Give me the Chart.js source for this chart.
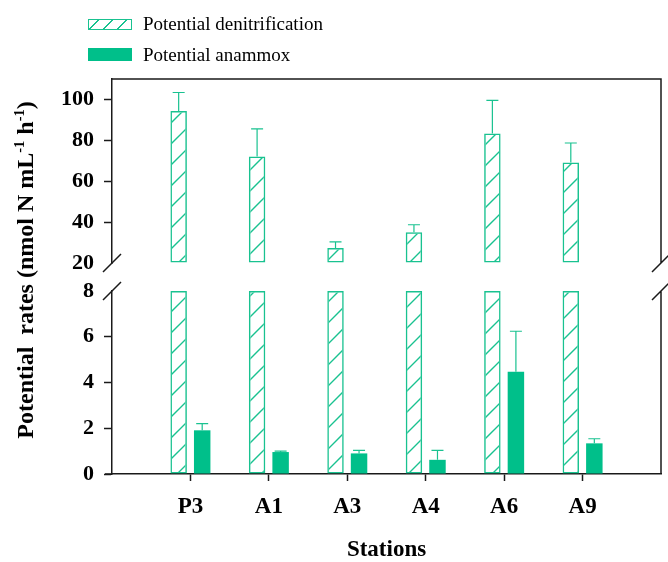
<!DOCTYPE html>
<html>
<head>
<meta charset="utf-8">
<title>Potential rates by station</title>
<script src="https://cdn.jsdelivr.net/npm/chart.js@4.4.1/dist/chart.umd.min.js"></script>
<style>
  html, body { margin: 0; padding: 0; background: #fff; }
  #wrap { position: relative; width: 668px; height: 562px; overflow: hidden; }
  #wrap canvas { position: absolute; left: 0; top: 0; }
  .serif { font-family: "Liberation Serif", "Times New Roman", serif; color: #000; }
  .sw { position: absolute; left: 88px; width: 44px; box-sizing: border-box; }
  .sw.hatch {
    top: 19px; height: 11px; border: 1px solid #19c290;
    background: repeating-linear-gradient(-45deg, transparent 0 8.5px, #19c290 8.5px 9.9px);
  }
  .sw.solid { top: 48px; height: 13px; background: #00bf8a; }
  .legtxt { position: absolute; left: 143px; font-size: 19px; line-height: 20px; white-space: nowrap; }
  #ytitle {
    position: absolute; left: -185px; top: 255px; width: 420px; height: 30px;
    line-height: 30px; text-align: center; white-space: nowrap;
    font-weight: bold; font-size: 24px; transform: rotate(-90deg);
  }
  #ytitle sup { font-size: 0.6em; vertical-align: super; line-height: 0; }
</style>
</head>
<body>
<div id="wrap">
  <canvas id="lowerChart" width="668" height="562"></canvas>
  <canvas id="upperChart" width="668" height="562"></canvas>
  <div class="sw hatch"></div>
  <div class="legtxt serif" style="top:14px">Potential denitrification</div>
  <div class="sw solid"></div>
  <div class="legtxt serif" style="top:45px">Potential anammox</div>
  <div id="ytitle" class="serif">Potential&nbsp; rates (nmol N mL<sup>-1</sup> h<sup>-1</sup>)</div>
</div>
<script>
// values
const stations = ['P3', 'A1', 'A3', 'A4', 'A6', 'A9'];
const denitrification = [94.4, 72.1, 27.3, 35.0, 83.4, 69.2];
const denitrificationErr = [9.0, 13.5, 3.0, 3.7, 16.1, 9.5];
const anammox = [1.91, 0.96, 0.90, 0.62, 4.47, 1.34];
const anammoxErr = [0.29, 0.04, 0.13, 0.41, 1.77, 0.20];

const upperTicks = [20, 40, 60, 80, 100];
const lowerTicks = [0, 2, 4, 6, 8];
const upperRange = [20, 110];
const lowerRange = [0, 8];

const GREEN = '#00bf8a';
const LINE_GREEN = '#19c290';
const AXIS = '#1a1a1a';
const FONT = '"Liberation Serif", "Times New Roman", serif';

// empty slot on each side so stations sit at 1..6 of 0..7
const xLabels = [''].concat(stations, ['']);
const pad = arr => [null].concat(arr, [null]);

function makeHatch(color) {
    const s = 21;
    const c = document.createElement('canvas');
    c.width = s; c.height = s;
    const g = c.getContext('2d');
    g.strokeStyle = color;
    g.lineWidth = 1.4;
    g.beginPath();
    g.moveTo(0, s); g.lineTo(s, 0);
    g.moveTo(-2, 2); g.lineTo(2, -2);
    g.moveTo(s - 2, s + 2); g.lineTo(s + 2, s - 2);
    g.stroke();
    return g.createPattern(c, 'repeat');
}
const hatch = makeHatch(LINE_GREEN);

const errorBars = {
    id: 'errorBars',
    afterDatasetsDraw(chart) {
        const ctx = chart.ctx;
        const y = chart.scales.y;
        chart.data.datasets.forEach((ds, i) => {
            if (!ds.errors) return;
            chart.getDatasetMeta(i).data.forEach((bar, j) => {
                const v = ds.data[j], e = ds.errors[j];
                if (v == null || e == null) return;
                const top = y.getPixelForValue(v + e);
                ctx.save();
                ctx.strokeStyle = LINE_GREEN;
                ctx.lineWidth = 1.2;
                ctx.beginPath();
                ctx.moveTo(bar.x, bar.y);
                ctx.lineTo(bar.x, top);
                ctx.moveTo(bar.x - 6, top);
                ctx.lineTo(bar.x + 6, top);
                ctx.stroke();
                ctx.restore();
            });
        });
    }
};

function slash(ctx, x, y) {
    ctx.moveTo(x - 9, y + 9);
    ctx.lineTo(x + 9, y - 9);
}

// frame pieces and axis-break marks
const frame = {
    id: 'frame',
    afterDraw(chart, args, opts) {
        const a = chart.chartArea;
        const ctx = chart.ctx;
        ctx.save();
        ctx.strokeStyle = AXIS;
        ctx.lineWidth = 1.5;
        ctx.beginPath();
        if (opts.part === 'upper') {
            ctx.moveTo(a.left, a.top);
            ctx.lineTo(a.right, a.top);
            ctx.lineTo(a.right, a.bottom);
            slash(ctx, a.left, a.bottom);
            slash(ctx, a.right, a.bottom);
        } else {
            ctx.moveTo(a.right, a.top);
            ctx.lineTo(a.right, a.bottom);
            ctx.moveTo(a.left - 7, a.bottom);
            ctx.lineTo(a.left, a.bottom);
            slash(ctx, a.left, a.top);
            slash(ctx, a.right, a.top);
        }
        ctx.stroke();
        ctx.restore();
    }
};

function yAxis(range, ticks, hideTick) {
    return {
        min: range[0],
        max: range[1],
        afterBuildTicks: s => { s.ticks = ticks.map(v => ({ value: v })); },
        afterFit: s => { s.width = 112; },
        grid: {
            drawOnChartArea: false,
            tickLength: 8,
            tickWidth: 1.5,
            tickColor: c => (c.tick && c.tick.value === hideTick) ? 'rgba(0,0,0,0)' : AXIS
        },
        border: { display: true, color: AXIS, width: 1.5 },
        ticks: {
            color: '#000',
            padding: 10,
            font: { family: FONT, size: 22, weight: 'bold' }
        }
    };
}

const common = {
    responsive: false,
    animation: false,
    events: [],
    plugins: { legend: { display: false }, tooltip: { enabled: false } },
    datasets: { bar: { categoryPercentage: 0.6, barPercentage: 0.7 } }
};

new Chart(document.getElementById('upperChart'), {
    type: 'bar',
    data: {
        labels: xLabels,
        datasets: [{
            label: 'Potential denitrification',
            data: pad(denitrification),
            errors: pad(denitrificationErr),
            base: upperRange[0],
            backgroundColor: hatch,
            borderColor: LINE_GREEN,
            borderWidth: 1.5,
            borderSkipped: false,
            clip: false
        }, {
            label: 'Potential anammox',
            data: pad(anammox.map(() => null)),
            backgroundColor: GREEN
        }]
    },
    options: Object.assign({}, common, {
        layout: { padding: { top: 79, right: 7, bottom: 299, left: 0 } },
        scales: {
            x: { display: false, offset: false, grid: { offset: false } },
            y: yAxis(upperRange, upperTicks, 20)
        },
        plugins: Object.assign({}, common.plugins, { frame: { part: 'upper' } })
    }),
    plugins: [errorBars, frame]
});

new Chart(document.getElementById('lowerChart'), {
    type: 'bar',
    data: {
        labels: xLabels,
        datasets: [{
            label: 'Potential denitrification',
            data: pad(denitrification.map(v => Math.min(v, lowerRange[1]))),
            backgroundColor: hatch,
            borderColor: LINE_GREEN,
            borderWidth: 1.5,
            borderSkipped: false,
            clip: false
        }, {
            label: 'Potential anammox',
            data: pad(anammox),
            errors: pad(anammoxErr),
            backgroundColor: GREEN,
            borderWidth: 0
        }]
    },
    options: Object.assign({}, common, {
        layout: { padding: { top: 291, right: 7, bottom: 0, left: 0 } },
        scales: {
            x: {
                offset: false,
                afterFit: s => { s.height = 88; },
                grid: {
                    offset: false,
                    drawOnChartArea: false,
                    tickLength: 7,
                    tickWidth: 1.5,
                    tickColor: c => (c.tick && c.tick.label === '') ? 'rgba(0,0,0,0)' : AXIS
                },
                border: { display: true, color: AXIS, width: 1.5 },
                ticks: {
                    color: '#000',
                    padding: 7,
                    autoSkip: false,
                    maxRotation: 0,
                    font: { family: FONT, size: 23, weight: 'bold', lineHeight: 1.65 }
                },
                title: {
                    display: true,
                    text: 'Stations',
                    color: '#000',
                    padding: { top: 0, bottom: 0 },
                    font: { family: FONT, size: 23, weight: 'bold', lineHeight: 1.0 }
                }
            },
            y: yAxis(lowerRange, lowerTicks, 8)
        },
        plugins: Object.assign({}, common.plugins, { frame: { part: 'lower' } })
    }),
    plugins: [errorBars, frame]
});
</script>
</body>
</html>
